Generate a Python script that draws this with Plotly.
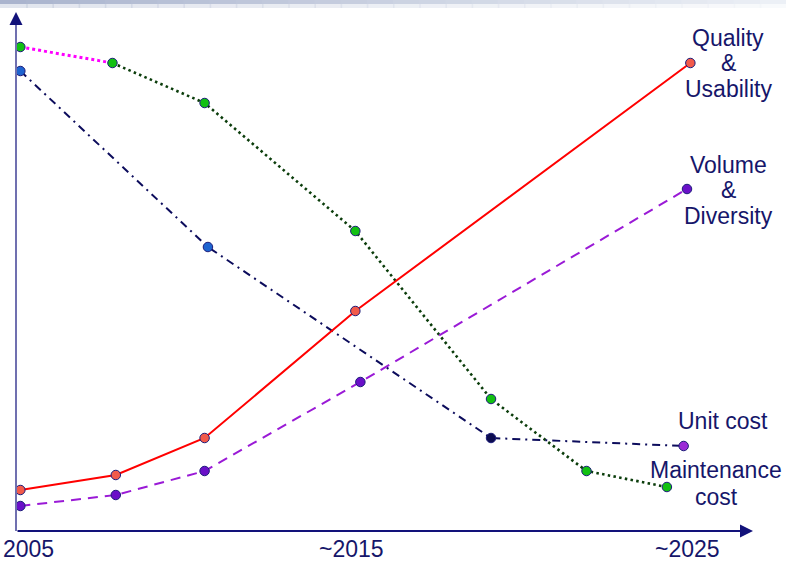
import plotly.graph_objects as go

# ---------------- data (years, relative level 0-100) ----------------
tick_years = [2005, 2015, 2025]
tick_labels = ["2005", "~2015", "~2025"]

quality_x = [2005.1, 2007.95, 2010.6, 2015.1, 2025.1]
quality_y = [8.0, 11.0, 18.4, 43.8, 93.4]

volume_x = [2005.1, 2007.95, 2010.6, 2015.25, 2025.0]
volume_y = [4.8, 7.0, 11.8, 29.6, 68.2]

unit_x = [2005.1, 2010.7, 2019.15, 2024.9]
unit_y = [91.8, 56.6, 18.4, 16.8]

maint_x = [2005.1, 2007.85, 2010.6, 2015.1, 2019.15, 2022.0, 2024.4]
maint_y = [96.6, 93.4, 85.4, 59.8, 26.2, 11.8, 8.6]

series_labels = [["Quality", "&", "Usability"], ["Volume", "&", "Diversity"],
                 ["Unit cost"], ["Maintenance", "cost"]]

# ---------------- styling ----------------
W, H = 786, 565
XR = [2004.493, 2027.955]
YR = [-7, 106]
NAVY = "#16166a"
OUT = dict(color="#1c1c7a", width=1)

fig = go.Figure()

# magenta first segment of maintenance
fig.add_trace(go.Scatter(x=maint_x[:2], y=maint_y[:2], mode="lines",
                         line=dict(color="#ff00ff", width=3, dash="3px,3px"),
                         hoverinfo="skip", showlegend=False))
fig.add_trace(go.Scatter(x=maint_x[1:], y=maint_y[1:], mode="lines",
                         line=dict(color="#0b3d0b", width=2.6, dash="2.5px,3.3px"),
                         hoverinfo="skip", showlegend=False))
fig.add_trace(go.Scatter(x=maint_x, y=maint_y, mode="markers",
                         marker=dict(color="#12c012", size=9.5, line=OUT),
                         showlegend=False))

fig.add_trace(go.Scatter(x=unit_x, y=unit_y, mode="lines+markers",
                         line=dict(color="#0c0c5c", width=2, dash="8px,5px,2px,5px"),
                         marker=dict(color=["#1e64d0", "#1e64d0", "#0c0c50", "#9a2ad6"],
                                     size=9.5, line=OUT),
                         showlegend=False))

fig.add_trace(go.Scatter(x=volume_x, y=volume_y, mode="lines+markers",
                         line=dict(color="#9a1ad6", width=2, dash="10px,7px"),
                         marker=dict(color="#6a10c8", size=9.5, line=OUT),
                         showlegend=False))

fig.add_trace(go.Scatter(x=quality_x, y=quality_y, mode="lines+markers",
                         line=dict(color="#ff0000", width=2),
                         marker=dict(color="#f25a4a", size=9.5, line=OUT),
                         showlegend=False))

def px2x(px):
    return XR[0] + (XR[1] - XR[0]) * px / W

def py2y(py):
    return YR[1] - (YR[1] - YR[0]) * py / H

annotations = []
shapes = []

# axes
shapes.append(dict(type="line", xref="x", yref="y", x0=px2x(16), x1=px2x(16),
                   y0=py2y(531), y1=py2y(20), line=dict(color="#7070b0", width=2)))
annotations.append(dict(x=px2x(16), y=py2y(12), ax=px2x(16), ay=py2y(24),
                        xref="x", yref="y", axref="x", ayref="y", text="",
                        showarrow=True, arrowhead=2, arrowsize=1.3, arrowwidth=2,
                        arrowcolor="#12127a"))
annotations.append(dict(x=px2x(753), y=py2y(531), ax=px2x(16), ay=py2y(531),
                        xref="x", yref="y", axref="x", ayref="y", text="",
                        showarrow=True, arrowhead=2, arrowsize=1.3, arrowwidth=2,
                        arrowcolor="#12127a"))

# top band gradient
n = 30
for i in range(n):
    t = i / (n - 1)
    r = int(170 + (236 - 170) * t)
    g = int(180 + (240 - 180) * t)
    b = int(206 + (246 - 206) * t)
    shapes.append(dict(type="rect", xref="paper", yref="paper",
                       x0=i / n, x1=(i + 1) / n + 0.002, y0=1 - 4 / H, y1=1,
                       fillcolor=f"rgb({r},{g},{b})", line=dict(width=0), layer="below"))
    shapes.append(dict(type="rect", xref="paper", yref="paper",
                       x0=i / n, x1=(i + 1) / n + 0.002, y0=1 - 8 / H, y1=1 - 4 / H,
                       fillcolor=f"rgba({r},{g},{b},0.35)", line=dict(width=0), layer="below"))

FONT = dict(family="Liberation Sans, Arial, sans-serif", size=23, color=NAVY)

# tick labels (box bottom on the page edge)
for i, (yr, lab) in enumerate(zip(tick_years, tick_labels)):
    if i == 0:
        annotations.append(dict(x=0, y=0, xref="paper", yref="paper", text=lab,
                                showarrow=False, font=FONT, xanchor="left",
                                yanchor="bottom", xshift=1, yshift=1))
    else:
        annotations.append(dict(x=yr, y=0, xref="x", yref="paper", text=lab,
                                showarrow=False, font=FONT, xanchor="center",
                                yanchor="bottom", yshift=1))

# series labels (one annotation per line for tight spacing)
label_x = [728, 728, 723, 716]
label_lines_y = [[38, 63, 89], [165, 190, 216], [421], [470, 497]]
for lines, lx, lys in zip(series_labels, label_x, label_lines_y):
    for txt, ly in zip(lines, lys):
        annotations.append(dict(x=lx / W, y=1 - ly / H, xref="paper", yref="paper",
                                text=txt, showarrow=False, font=FONT,
                                xanchor="center", yanchor="middle", align="center"))

fig.update_layout(
    width=W, height=H,
    margin=dict(l=0, r=0, t=0, b=0),
    paper_bgcolor="white", plot_bgcolor="white",
    xaxis=dict(range=XR, visible=False, fixedrange=True),
    yaxis=dict(range=YR, visible=False, fixedrange=True),
    shapes=shapes, annotations=annotations,
    showlegend=False,
)

fig.write_html("out.html")
